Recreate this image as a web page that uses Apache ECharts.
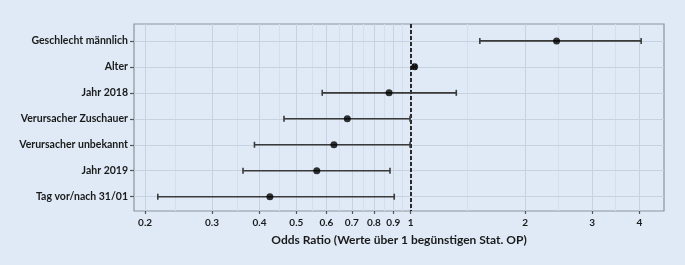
<!DOCTYPE html>
<html>
<head>
<meta charset="utf-8">
<script src="https://cdn.jsdelivr.net/npm/echarts@6/dist/echarts.min.js"></script>
<style>
  html, body { margin: 0; padding: 0; background: #dfeaf6; }
  #chart { width: 685px; height: 265px; }
</style>
</head>
<body>
<div id="chart"></div>
<script>
// rows, top to bottom
var labels = ['Geschlecht männlich', 'Alter', 'Jahr 2018', 'Verursacher Zuschauer',
              'Verursacher unbekannt', 'Jahr 2019', 'Tag vor/nach 31/01'];
var oddsRatio = [2.42, 1.024, 0.877, 0.681, 0.628, 0.566, 0.426];
var ciLow     = [1.52, 1.015, 0.585, 0.464, 0.388, 0.362, 0.216];
var ciHigh    = [4.04, 1.032, 1.318, 0.996, 0.996, 0.882, 0.905];

var xTicks = [0.2, 0.3, 0.4, 0.5, 0.6, 0.7, 0.8, 0.9, 1, 2, 3, 4];
var xMinor = [0.245, 0.346, 0.447, 0.548, 0.648, 0.748, 0.849, 0.949, 1.414, 2.449, 3.464];
var rows = [1, 2, 3, 4, 5, 6, 7];

var chart = echarts.init(document.getElementById('chart'));

var barData = [];
var pointData = [];
for (let i = 0; i < labels.length; i++) {
    barData.push([ciLow[i], ciHigh[i], rows[i]]);
    pointData.push([oddsRatio[i], rows[i]]);
}

var gridLines = [];
xMinor.forEach(function (v) {
    gridLines.push({ xAxis: v, lineStyle: { color: '#d3dfec', width: 1, type: 'solid' } });
});
xTicks.forEach(function (v) {
    gridLines.push({ xAxis: v, lineStyle: { color: '#c6d2df', width: 1, type: 'solid' } });
});
rows.forEach(function (v) {
    gridLines.push({ yAxis: v, lineStyle: { color: '#c6d2df', width: 1, type: 'solid' } });
});

var op = {
    backgroundColor: '#dfeaf6',
    animation: false,
    grid: {
        left: 134,
        right: 21,
        top: 24,
        bottom: 54,
        show: true,
        backgroundColor: 'transparent',
        borderColor: '#8e949b',
        borderWidth: 1.2
    },
    xAxis: {
        type: 'log',
        logBase: 10,
        min: 0.187,
        max: 4.64,
        name: 'Odds Ratio (Werte über 1 begünstigen Stat. OP)',
        nameLocation: 'middle',
        nameGap: 23,
        nameTextStyle: { fontFamily: 'Lato', fontWeight: 'bold', fontSize: 12, color: '#1a1a1a' },
        axisLine: { show: false },
        splitLine: { show: false },
        minorSplitLine: { show: false },
        axisTick: { show: true, length: 3, customValues: xTicks, lineStyle: { color: '#555', width: 1.2 } },
        axisLabel: {
            customValues: xTicks,
            fontFamily: 'Lato', fontWeight: 'bold', fontSize: 10, color: '#1a1a1a', margin: 7,
            formatter: function (v) { return String(v); }
        }
    },
    yAxis: {
        type: 'value',
        inverse: true,
        min: 0.35,
        max: 7.55,
        axisLine: { show: false },
        splitLine: { show: false },
        axisTick: { show: true, length: 4, customValues: rows, lineStyle: { color: '#555', width: 1.2 } },
        axisLabel: {
            customValues: rows,
            fontFamily: 'Lato', fontWeight: 'bold', fontSize: 10.5, color: '#1a1a1a', margin: 6,
            formatter: function (v) { return labels[Math.round(v) - 1] || ''; }
        }
    },
    series: [
        {
            type: 'line',
            data: [],
            silent: true,
            markLine: {
                silent: true,
                symbol: ['none', 'none'],
                label: { show: false },
                data: gridLines
            }
        },
        {
            type: 'line',
            data: [],
            silent: true,
            z: 5,
            markLine: {
                silent: true,
                symbol: ['none', 'none'],
                label: { show: false },
                lineStyle: { color: '#2a2a2a', width: 2, type: [4, 2] },
                data: [{ xAxis: 1 }]
            }
        },
        {
            type: 'custom',
            z: 6,
            data: barData,
            renderItem: function (params, api) {
                var y = api.value(2);
                var a = api.coord([api.value(0), y]);
                var b = api.coord([api.value(1), y]);
                var st = { stroke: '#3a3a3a', lineWidth: 1.6 };
                return {
                    type: 'group',
                    children: [
                        { type: 'line', shape: { x1: a[0], y1: a[1], x2: b[0], y2: b[1] }, style: st },
                        { type: 'line', shape: { x1: a[0], y1: a[1] - 3, x2: a[0], y2: a[1] + 3 }, style: st },
                        { type: 'line', shape: { x1: b[0], y1: b[1] - 3, x2: b[0], y2: b[1] + 3 }, style: st }
                    ]
                };
            }
        },
        {
            type: 'scatter',
            z: 7,
            symbol: 'circle',
            symbolSize: 7,
            itemStyle: { color: '#000' },
            data: pointData
        }
    ]
};
chart.setOption(op);
</script>
</body>
</html>
